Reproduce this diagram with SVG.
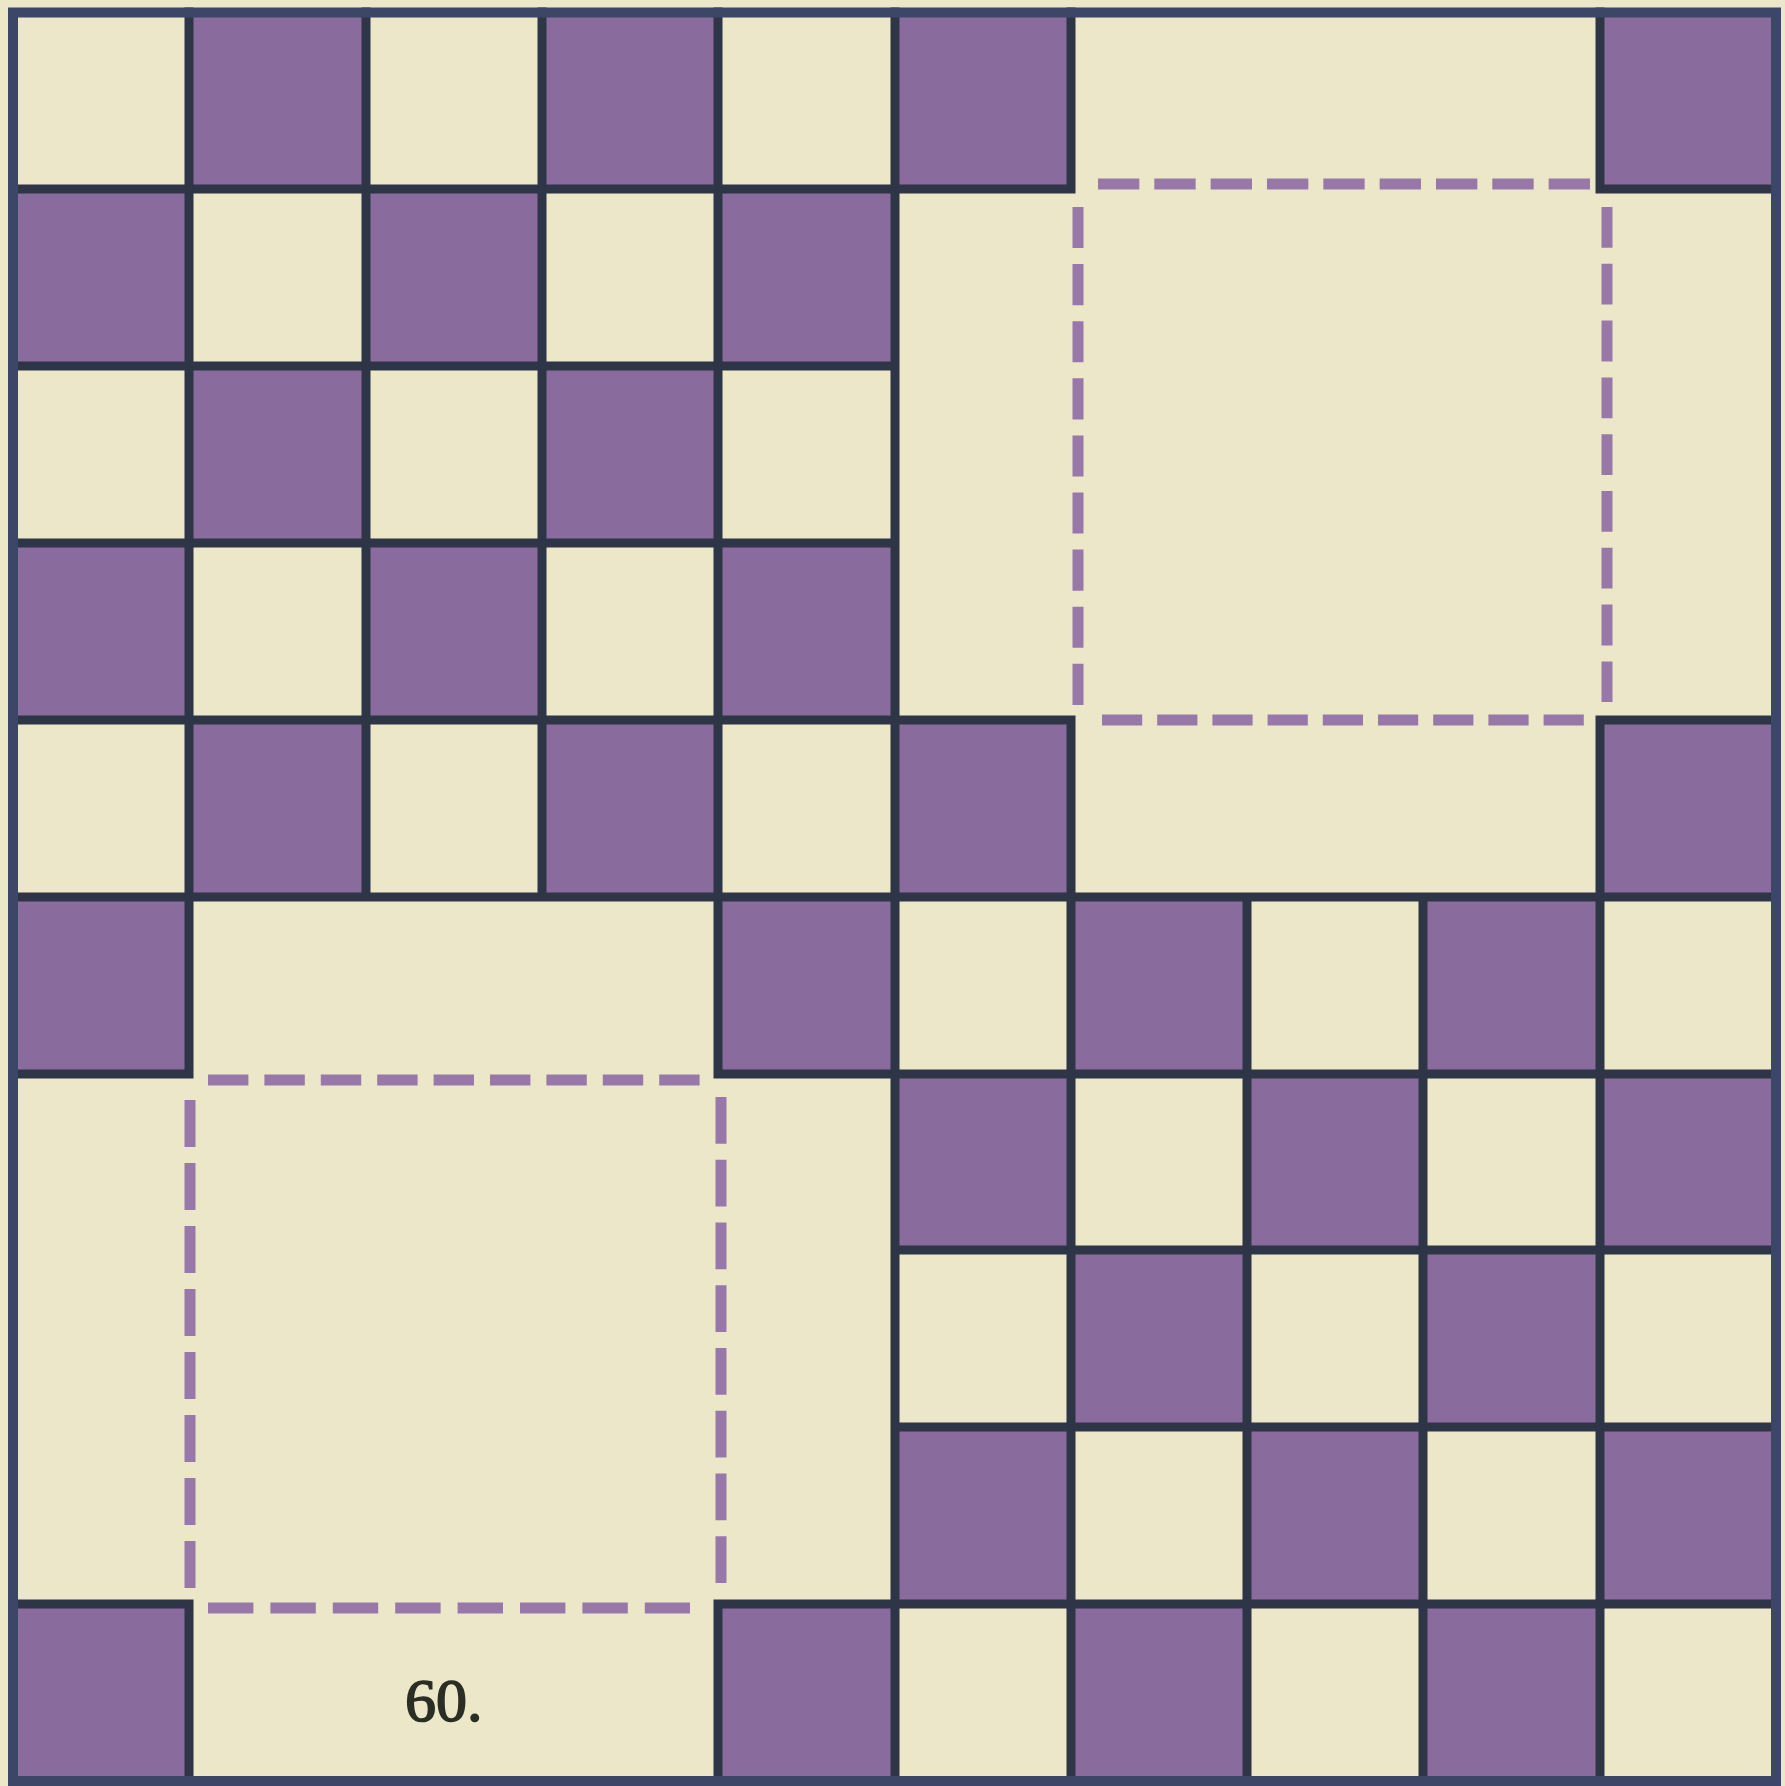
<svg xmlns="http://www.w3.org/2000/svg" width="1785" height="1786" viewBox="0 0 1785 1786">
<style>
.bg{fill:#ebe7c8}
.p{fill:#8a6b9d}
.grid{fill:none;stroke:#2e3546;stroke-width:9;stroke-linecap:square}
.border{fill:none;stroke:#3c4768;stroke-width:10}
.dash{fill:none;stroke:#9878a9;stroke-width:11;stroke-linecap:butt}
.lbl{font-family:"Liberation Serif","Times New Roman",serif;font-size:62px;fill:#2a2e25;stroke:#2a2e25;stroke-width:1.6}
</style>
<rect class="bg" x="0" y="0" width="1785" height="1786"/>
<g id="cells">
<rect class="p" x="189" y="12" width="177" height="177"/>
<rect class="p" x="542" y="12" width="176" height="177"/>
<rect class="p" x="13" y="189" width="176" height="177"/>
<rect class="p" x="366" y="189" width="176" height="177"/>
<rect class="p" x="718" y="189" width="177" height="177"/>
<rect class="p" x="189" y="366" width="177" height="177"/>
<rect class="p" x="542" y="366" width="176" height="177"/>
<rect class="p" x="13" y="543" width="176" height="177"/>
<rect class="p" x="366" y="543" width="176" height="177"/>
<rect class="p" x="718" y="543" width="177" height="177"/>
<rect class="p" x="189" y="720" width="177" height="177"/>
<rect class="p" x="542" y="720" width="176" height="177"/>
<rect class="p" x="895" y="12" width="176" height="177"/>
<rect class="p" x="1600" y="12" width="176" height="177"/>
<rect class="p" x="895" y="720" width="176" height="177"/>
<rect class="p" x="1600" y="720" width="176" height="177"/>
<rect class="p" x="13" y="897" width="176" height="177"/>
<rect class="p" x="718" y="897" width="177" height="177"/>
<rect class="p" x="13" y="1604" width="176" height="177"/>
<rect class="p" x="718" y="1604" width="177" height="177"/>
<rect class="p" x="1071" y="897" width="176" height="177"/>
<rect class="p" x="1423" y="897" width="177" height="177"/>
<rect class="p" x="895" y="1074" width="176" height="176"/>
<rect class="p" x="1247" y="1074" width="176" height="176"/>
<rect class="p" x="1600" y="1074" width="176" height="176"/>
<rect class="p" x="1071" y="1250" width="176" height="177"/>
<rect class="p" x="1423" y="1250" width="177" height="177"/>
<rect class="p" x="895" y="1427" width="176" height="177"/>
<rect class="p" x="1247" y="1427" width="176" height="177"/>
<rect class="p" x="1600" y="1427" width="176" height="177"/>
<rect class="p" x="1071" y="1604" width="176" height="177"/>
<rect class="p" x="1423" y="1604" width="177" height="177"/>
</g>
<g id="lines">
<path class="grid" d="
M189 12V897 M366 12V897 M542 12V897 M718 12V897
M189 897V1074 M189 1604V1781 M718 897V1074 M718 1604V1781
M895 12V1781
M1071 897V1781 M1247 897V1781 M1423 897V1781 M1600 897V1781
M1071 12V189 M1071 720V897 M1600 12V189 M1600 720V897
M13 189H895 M13 366H895 M13 543H895 M13 720H895
M895 189H1071 M1600 189H1776 M895 720H1071 M1600 720H1776
M13 897H1776
M895 1074H1776 M895 1250H1776 M895 1427H1776 M895 1604H1776
M13 1074H189 M718 1074H895 M13 1604H189 M718 1604H895"/>
<rect class="border" x="13" y="12.5" width="1763" height="1768.5"/>
</g>
<g id="dashed-square-top-right">
<path class="dash" stroke-dasharray="41.33 15" d="M1098 184H1590"/>
<path class="dash" stroke-dasharray="40.2 15" d="M1102 720H1584"/>
<path class="dash" stroke-dasharray="41.1 16" d="M1078 207V705"/>
<path class="dash" stroke-dasharray="40.8 16" d="M1607 207V702"/>
</g>
<g id="dashed-square-bottom-left">
<path class="dash" stroke-dasharray="40.4 16" d="M208 1080H700"/>
<path class="dash" stroke-dasharray="45.4 17" d="M208 1608H690"/>
<path class="dash" stroke-dasharray="47 16" d="M190 1100V1588"/>
<path class="dash" stroke-dasharray="46.75 16" d="M721 1097V1583"/>
</g>
<text class="lbl" x="405" y="1721">60.</text>
</svg>
